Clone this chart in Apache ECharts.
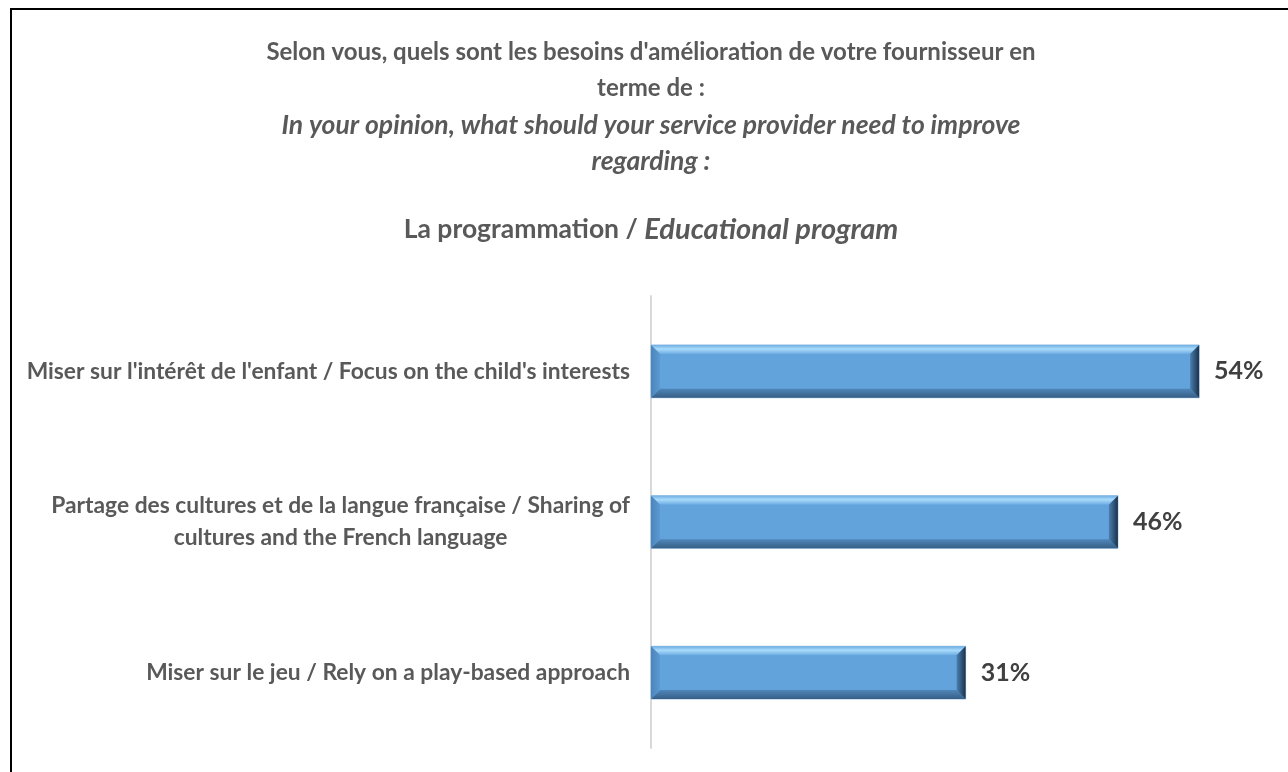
<!DOCTYPE html>
<html>
<head>
<meta charset="utf-8">
<script src="https://cdn.jsdelivr.net/npm/echarts@6/dist/echarts.min.js"></script>
<style>
html,body{margin:0;padding:0;background:#fff;}
#chart{width:1288px;height:772px;}
</style>
</head>
<body>
<div id="chart"></div>
<script>
// ---- data ----
const categories = [
  "Miser sur l'intérêt de l'enfant / Focus on the child's interests",
  "Partage des cultures et de la langue française / Sharing of\ncultures and the French language",
  "Miser sur le jeu / Rely on a play-based approach"
];
const values = [54, 46, 31];
const titleLine1 = "Selon vous, quels sont les besoins d'amélioration de votre fournisseur en";
const titleLine2 = "terme de :";
const titleLine3 = "In your opinion, what should your service provider need to improve";
const titleLine4 = "regarding :";
const subtitleFr = "La programmation / ";
const subtitleEn = "Educational program";

const FONT = 'Lato';
const chart = echarts.init(document.getElementById('chart'));

function renderItem(params, api) {
  const v = api.value(0);
  const cat = api.value(1);
  const s = api.coord([0, cat]);
  const e = api.coord([v, cat]);
  const bw = api.size([0, 1])[1] * 0.35;
  const x0 = s[0], x1 = e[0];
  const y0 = s[1] - bw / 2, y1 = s[1] + bw / 2;
  const b = 9;
  return {
    type: 'group',
    children: [
      { type: 'rect', shape: { x: x0, y: y0, width: x1 - x0, height: y1 - y0 },
        style: { fill: '#62A3DC', stroke: '#9CC3E6', lineWidth: 1 } },
      { type: 'polygon', shape: { points: [[x0, y0], [x1, y0], [x1 - b, y0 + b], [x0 + b, y0 + b]] },
        style: { fill: new echarts.graphic.LinearGradient(0, 0, 0, 1, [
          { offset: 0, color: '#6FAEE3' }, { offset: 0.45, color: '#A9DBFB' }, { offset: 1, color: '#6DACE2' }]) } },
      { type: 'polygon', shape: { points: [[x0, y1], [x1, y1], [x1 - b, y1 - b], [x0 + b, y1 - b]] },
        style: { fill: new echarts.graphic.LinearGradient(0, 0, 0, 1, [
          { offset: 0, color: '#4F86B9' }, { offset: 1, color: '#375F86' }]) } },
      { type: 'polygon', shape: { points: [[x0, y0], [x0 + b, y0 + b], [x0 + b, y1 - b], [x0, y1]] },
        style: { fill: new echarts.graphic.LinearGradient(0, 0, 1, 0, [
          { offset: 0, color: '#4C84BA' }, { offset: 1, color: '#5B9AD2' }]) } },
      { type: 'polygon', shape: { points: [[x1, y0], [x1 - b, y0 + b], [x1 - b, y1 - b], [x1, y1]] },
        style: { fill: new echarts.graphic.LinearGradient(0, 0, 1, 0, [
          { offset: 0, color: '#4A7FB2' }, { offset: 1, color: '#1C324A' }]) } },
      { type: 'text', x: x1 + 15, y: s[1],
        style: { text: v + '%', fill: '#404040', font: 'bold 25px ' + FONT,
          verticalAlign: 'middle', align: 'left' } }
    ]
  };
}

const option = {
  backgroundColor: '#ffffff',
  animation: false,
  graphic: [{
    type: 'rect', silent: true,
    shape: { x: 11, y: 9, width: 1300, height: 800 },
    style: { fill: 'none', stroke: '#000', lineWidth: 2 }
  }],
  title: [{
    left: 646, top: 29, textAlign: 'center',
    text: '{b|' + titleLine1 + '}\n{b|' + titleLine2 + '}\n{i|' + titleLine3 + '}\n{i|' + titleLine4 + '}',
    textStyle: {
      rich: {
        b: { fontFamily: FONT, fontWeight: 'bold', fontSize: 24, color: '#595959', lineHeight: 36.5 },
        i: { fontFamily: FONT, fontWeight: 'bold', fontStyle: 'italic', fontSize: 26.5, color: '#595959', lineHeight: 36.5 }
      }
    }
  }, {
    left: 646, top: 206, textAlign: 'center',
    text: '{b|' + subtitleFr + '}{i|' + subtitleEn + '}',
    textStyle: {
      rich: {
        b: { fontFamily: FONT, fontWeight: 'bold', fontSize: 26.5, color: '#595959', lineHeight: 37 },
        i: { fontFamily: FONT, fontWeight: 'bold', fontStyle: 'italic', fontSize: 29, color: '#595959', lineHeight: 37 }
      }
    }
  }],
  grid: { left: 651, right: 28, top: 296, bottom: 24, containLabel: false },
  xAxis: { type: 'value', min: 0, max: 60, show: false },
  yAxis: {
    type: 'category', inverse: true, data: categories,
    axisLine: { show: true, lineStyle: { color: '#D9D9D9', width: 2 } },
    axisTick: { show: false },
    splitLine: { show: false },
    axisLabel: {
      margin: 21,
      formatter: function (v) {
        return v.split('\n').map(function (l) { return '{c|' + l + '}'; }).join('\n');
      },
      rich: {
        c: { align: 'center', fontFamily: FONT, fontWeight: 'bold', fontSize: 22.8, color: '#595959', lineHeight: 32 }
      }
    }
  },
  series: [{
    type: 'custom',
    renderItem: renderItem,
    encode: { x: 0, y: 1 },
    data: values.map(function (v, i) { return [v, i]; })
  }]
};
chart.setOption(option);
</script>
</body>
</html>
